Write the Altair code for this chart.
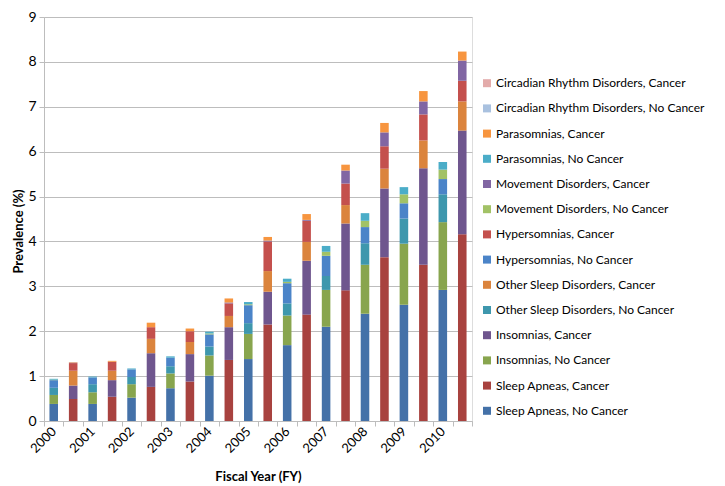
import altair as alt
import pandas as pd

years = ["2000", "2001", "2002", "2003", "2004", "2005", "2006", "2007", "2008", "2009", "2010"]

# No Cancer bars (prevalence, %)
sleep_apneas_nc = [0.38, 0.38, 0.52, 0.73, 1.01, 1.38, 1.69, 2.10, 2.39, 2.59, 2.92]
insomnias_nc = [0.20, 0.26, 0.30, 0.33, 0.45, 0.56, 0.66, 0.82, 1.09, 1.36, 1.51]
other_nc = [0.16, 0.18, 0.16, 0.16, 0.20, 0.24, 0.27, 0.31, 0.48, 0.56, 0.62]
hyper_nc = [0.17, 0.15, 0.17, 0.19, 0.27, 0.40, 0.45, 0.45, 0.36, 0.34, 0.34]
movement_nc = [0.01, 0.00, 0.00, 0.00, 0.02, 0.02, 0.03, 0.09, 0.14, 0.20, 0.21]
para_nc = [0.02, 0.02, 0.02, 0.03, 0.04, 0.05, 0.07, 0.13, 0.17, 0.16, 0.17]
circ_nc = [0.00, 0.00, 0.00, 0.00, 0.00, 0.00, 0.00, 0.00, 0.00, 0.00, 0.00]

# Cancer bars (prevalence, %)
sleep_apneas_c = [0.49, 0.54, 0.76, 0.88, 1.36, 2.15, 2.37, 2.91, 3.65, 3.48, 4.16]
insomnias_c = [0.30, 0.37, 0.75, 0.61, 0.73, 0.73, 1.20, 1.49, 1.53, 2.15, 2.31]
other_c = [0.33, 0.21, 0.32, 0.27, 0.25, 0.46, 0.42, 0.41, 0.44, 0.62, 0.65]
hyper_c = [0.17, 0.20, 0.26, 0.24, 0.28, 0.66, 0.47, 0.48, 0.50, 0.58, 0.46]
movement_c = [0.01, 0.00, 0.00, 0.00, 0.02, 0.02, 0.02, 0.29, 0.31, 0.29, 0.45]
para_c = [0.01, 0.02, 0.10, 0.06, 0.09, 0.08, 0.13, 0.13, 0.21, 0.23, 0.20]
circ_c = [0.00, 0.00, 0.00, 0.00, 0.00, 0.00, 0.00, 0.00, 0.00, 0.00, 0.00]

disorders = ["Sleep Apneas", "Insomnias", "Other Sleep Disorders", "Hypersomnias",
             "Movement Disorders", "Parasomnias", "Circadian Rhythm Disorders"]
nc_series = [sleep_apneas_nc, insomnias_nc, other_nc, hyper_nc, movement_nc, para_nc, circ_nc]
c_series = [sleep_apneas_c, insomnias_c, other_c, hyper_c, movement_c, para_c, circ_c]

nc_colors = ["#4471A8", "#88A54E", "#3E97AD", "#4B84C8", "#A2C266", "#4BADC8", "#A9C1DF"]
c_colors = ["#A8423F", "#6F568E", "#DB843D", "#C4504D", "#8166A3", "#F7953F", "#E3ABAA"]

rows = []
slots = []
for i, y in enumerate(years):
    slots += [y + " No Cancer", y + " Cancer"]
    for k, d in enumerate(disorders):
        rows.append({"slot": y + " No Cancer", "series": d + ", No Cancer",
                     "value": nc_series[k][i], "idx": 2 * k})
        rows.append({"slot": y + " Cancer", "series": d + ", Cancer",
                     "value": c_series[k][i], "idx": 2 * k + 1})
df = pd.DataFrame(rows)

stack_names = []
stack_colors = []
for k, d in enumerate(disorders):
    stack_names += [d + ", No Cancer", d + ", Cancer"]
    stack_colors += [nc_colors[k], c_colors[k]]
legend_names = stack_names[::-1]
legend_colors = stack_colors[::-1]

FONT = "Lato"
GRID = "#BDBDBD"

chart = alt.Chart(df).mark_bar(width=alt.RelativeBandSize(0.44)).encode(
    x=alt.X("slot:N", sort=slots,
            scale=alt.Scale(paddingInner=0, paddingOuter=0),
            axis=alt.Axis(title="Fiscal Year (FY)",
                          labelExpr="indexof(datum.label, 'No') >= 0 ? slice(datum.label, 0, 4) : ''",
                          labelAngle=-45, labelAlign="right", labelBaseline="middle",
                          tickBand="extent", tickSize=5, tickColor=GRID,
                          domainColor=GRID, labelPadding=3, titlePadding=15,
                          labelFontSize=13, titleFontSize=13, titleFontWeight="bold",
                          labelColor="#000000", titleColor="#000000",
                          labelFont=FONT, titleFont=FONT, grid=False)),
    y=alt.Y("value:Q", stack="zero",
            scale=alt.Scale(domain=[0, 9], nice=False),
            axis=alt.Axis(title="Prevalence (%)", values=[0, 1, 2, 3, 4, 5, 6, 7, 8, 9],
                          format="d", tickSize=5, tickColor=GRID, domainColor=GRID,
                          gridColor=GRID, gridWidth=1.2, labelPadding=3, titlePadding=2,
                          titleY=214,
                          labelFontSize=14, titleFontSize=13, titleFontWeight="bold",
                          labelColor="#000000", titleColor="#000000",
                          labelFont=FONT, titleFont=FONT)),
    color=alt.Color("series:N",
                    scale=alt.Scale(domain=legend_names, range=legend_colors),
                    legend=alt.Legend(title=None, orient="none", legendX=437, legendY=60.2,
                                      symbolType="square", symbolSize=64, symbolStrokeWidth=0,
                                      labelFontSize=12, labelFont=FONT, labelColor="#000000",
                                      labelLimit=400, rowPadding=13.2, labelOffset=3)),
    order=alt.Order("idx:Q", sort="ascending"),
).properties(
    width=428, height=404,
    autosize=alt.AutoSizeParams(type="none"),
    padding={"left": 36, "top": 9, "right": 236, "bottom": 63},
).configure_view(stroke=None).configure(background="white")

chart.save("out.html", embed_options={"renderer": "svg", "actions": False})
